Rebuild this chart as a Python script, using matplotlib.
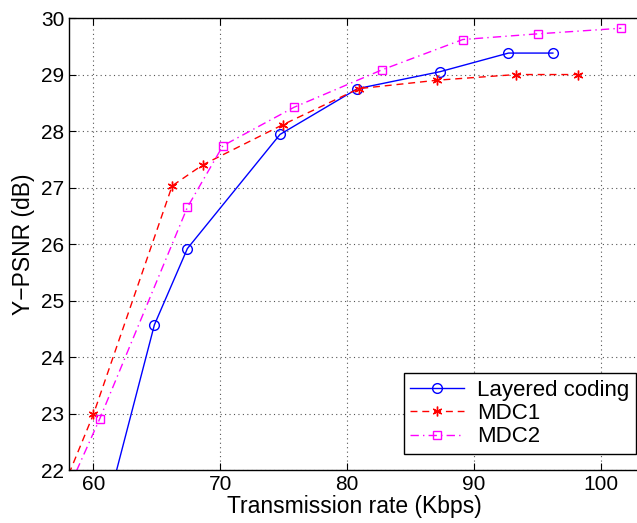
import matplotlib
matplotlib.use("Agg")
from matplotlib import pyplot as plt

plt.rcParams['font.family'] = ['Liberation Sans', 'DejaVu Sans']

# Layered coding
layered_x = [60.9, 64.8, 67.4, 74.7, 80.8, 87.3, 92.7, 96.2]
layered_y = [21.2, 24.57, 25.92, 27.94, 28.75, 29.05, 29.38, 29.38]

# MDC1
mdc1_x = [57.0, 60.0, 66.2, 68.6, 74.9, 80.9, 87.1, 93.3, 98.2]
mdc1_y = [21.35, 22.99, 27.03, 27.4, 28.11, 28.75, 28.9, 29.0, 29.0]

# MDC2
mdc2_x = [57.5, 60.5, 67.4, 70.2, 75.8, 82.7, 89.1, 95.0, 101.6]
mdc2_y = [21.4, 22.91, 26.65, 27.74, 28.42, 29.08, 29.62, 29.72, 29.82]

xticks = [60, 70, 80, 90, 100]
yticks = [22, 23, 24, 25, 26, 27, 28, 29, 30]

fig = plt.figure(figsize=(6.37, 5.23), dpi=100)
# axes runs past the right edge of the picture (cropped like the original)
ax = fig.add_axes([0.1083, 0.1013, 0.915, 0.8642])

ax.plot(layered_x, layered_y, '-', color='#0000ff', lw=1.0, marker='o',
        ms=7, mfc='none', mec='#0000ff', label='Layered coding')
ax.plot(mdc1_x, mdc1_y, '--', color='#ff0000', lw=1.0, marker=(6, 2, 0),
        ms=7, mec='#ff0000', dashes=(5, 3.5), label='MDC1')
ax.plot(mdc2_x, mdc2_y, '-.', color='#ff00ff', lw=1.0, marker='s',
        ms=6, mfc='none', mec='#ff00ff', dashes=(6, 3, 1, 3), label='MDC2')

ax.set_xlim(58.07, 104)
ax.set_ylim(22, 30)
ax.set_xticks(xticks)
ax.set_yticks(yticks)
ax.tick_params(direction='in', top=True, right=True, labelsize=15, length=5,
               width=0.8)
ax.grid(True, linestyle=(0, (1, 3)), color='#555555', lw=0.8)
for s in ax.spines.values():
    s.set_linewidth(1.0)

ax.set_xlabel('Transmission rate (Kbps)', fontsize=16.5)
ax.xaxis.set_label_coords(0.49, -0.056)
ax.xaxis.label.set_va('top')
ax.set_ylabel('Y\u2212PSNR (dB)', fontsize=16.5, labelpad=4)

leg = ax.legend(loc='lower right', fontsize=16, fancybox=False,
                edgecolor='black', framealpha=1, handlelength=2.4,
                borderpad=0.3, labelspacing=0.1, handletextpad=0.6,
                borderaxespad=0.72)
leg.get_frame().set_linewidth(1.0)

fig.savefig('out.png', dpi=100)
